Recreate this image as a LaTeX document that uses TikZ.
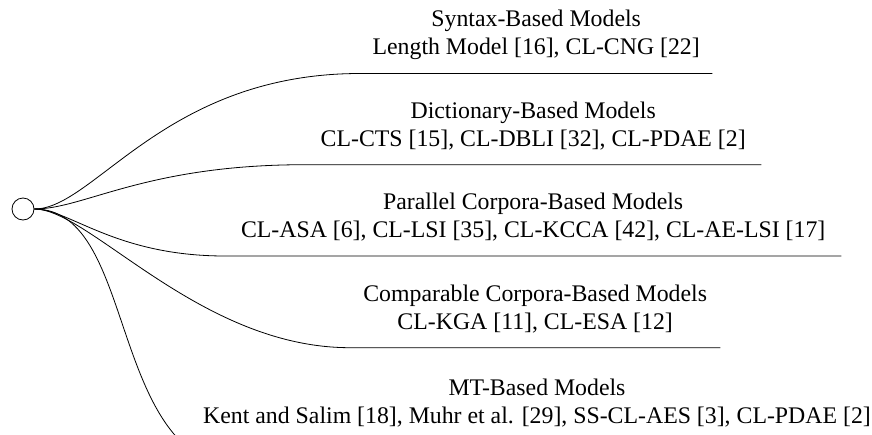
\documentclass[tikz,border=0pt]{standalone}
\usepackage{fontspec}
\setmainfont{Liberation Serif}
\begin{document}
\begin{tikzpicture}[x=1pt,y=-1pt,
  lbl/.style={align=center, font=\fontsize{23.8}{28}\selectfont, inner xsep=0pt, inner ysep=18.5pt, text depth=0pt, anchor=south west},
  conn/.style={line width=0.8pt},
  rootnode/.style={draw, circle, minimum size=22pt, inner sep=0pt, line width=0.8pt}]
\clip (0,0) rectangle (872,434);
\node[rootnode] (root) at (23,209) {};
\node[lbl, minimum width=352pt] (c1) at (360,73.5) {Syntax-Based Models\\Length Model [16], CL-CNG [22]};
\node[lbl, minimum width=456pt] (c2) at (305,164.7) {Dictionary-Based Models\\CL-CTS [15], CL-DBLI [32], CL-PDAE [2]};
\node[lbl, minimum width=616pt] (c3) at (225,256) {Parallel Corpora-Based Models\\CL-ASA [6], CL-LSI [35], CL-KCCA [42], CL-AE-LSI [17]};
\node[lbl, minimum width=370pt] (c4) at (350,347.7) {Comparable Corpora-Based Models\\CL-KGA [11], CL-ESA [12]};
\node[lbl, anchor=south] (c5) at (537,442.5) {MT-Based Models\\Kent and Salim [18], Muhr et al. [29], SS-CL-AES [3], CL-PDAE [2]};
\coordinate (m5) at (250,470);
\draw[conn] (root.east) .. controls +(60,0) and +(-195,0) .. (c1.south west) -- (c1.south east);
\draw[conn] (root.east) .. controls +(50,0) and +(-160,0) .. (c2.south west) -- (c2.south east);
\draw[conn] (root.east) .. controls +(35,0) and +(-110,0) .. (c3.south west) -- (c3.south east);
\draw[conn] (root.east) .. controls +(55,0) and +(-150,0) .. (c4.south west) -- (c4.south east);
\draw[conn] (root.east) .. controls +(106,0) and +(-145,0) .. (m5);
\end{tikzpicture}
\end{document}
